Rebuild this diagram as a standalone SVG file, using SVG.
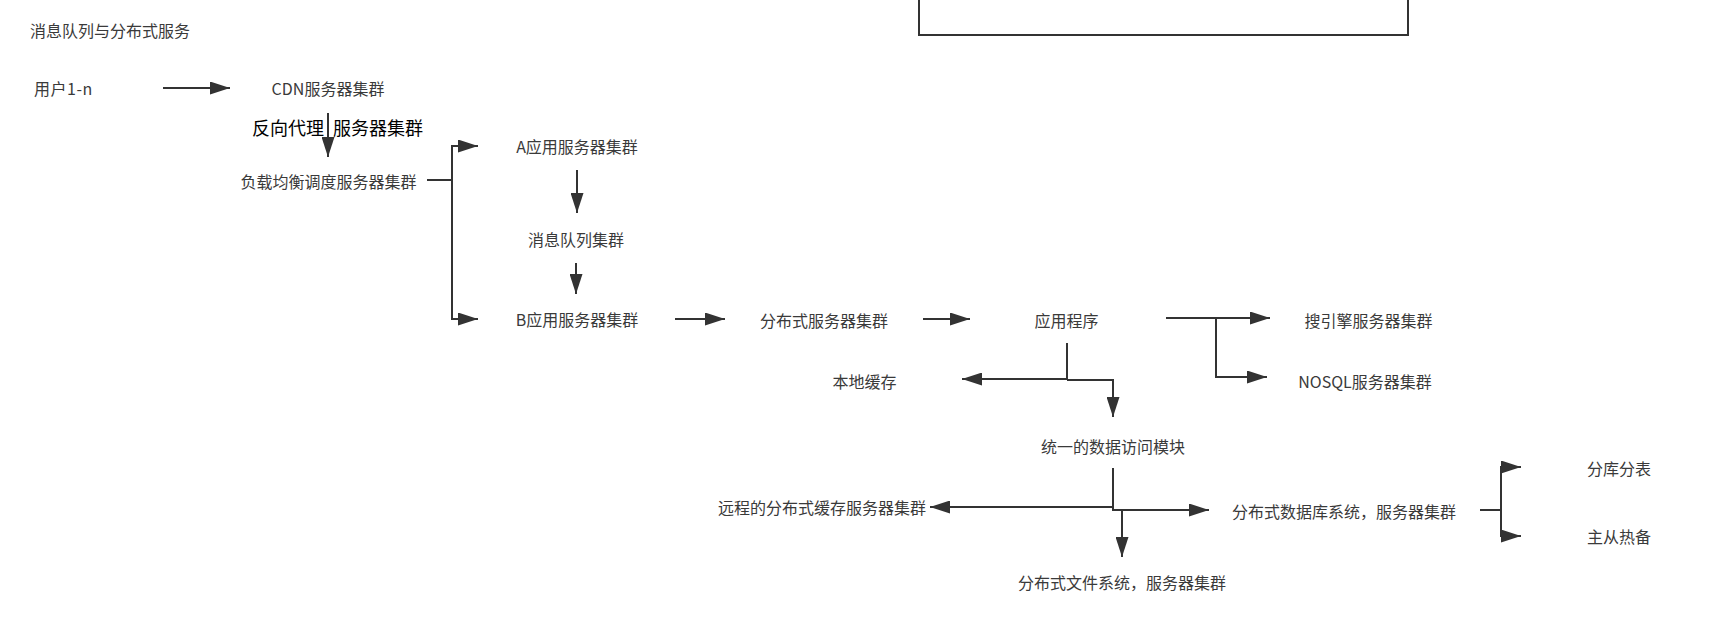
<svg xmlns="http://www.w3.org/2000/svg" width="1727" height="619" viewBox="0 0 1727 619">
<style>
  .t { font-family: "Noto Sans CJK SC", "Liberation Sans", sans-serif; font-size: 16px; fill: #3a3a3a; text-anchor: middle; dominant-baseline: central; }
  .ts { text-anchor: start; }
  .big { font-size: 18px; fill: #000; }
  .c { fill: none; stroke: #333; stroke-width: 2; marker-end: url(#ah); }
</style>
<defs>
  <marker id="ah" markerUnits="userSpaceOnUse" markerWidth="20" markerHeight="13" refX="20" refY="6.5" orient="auto">
    <path d="M0,0 L20,6.5 L0,13 Z" fill="#333"/>
  </marker>
</defs>
<rect width="1727" height="619" fill="#fff"/>

<g id="frame">
  <rect x="919" y="-10" width="489" height="45" fill="none" stroke="#333" stroke-width="2"/>
</g>

<g id="title"><text class="t ts" x="30" y="30">消息队列与分布式服务</text></g>
<g id="users"><text class="t ts" x="34" y="87.5" letter-spacing="0.5">用户1-n</text></g>
<g id="cdn"><text class="t" x="328" y="87.5">CDN服务器集群</text></g>
<g id="proxy"><text class="t ts big" x="252" y="126.5" word-spacing="5">反向代理 服务器集群</text></g>
<g id="lb"><text class="t" x="328.5" y="180.5">负载均衡调度服务器集群</text></g>
<g id="appA"><text class="t" x="577" y="145.5">A应用服务器集群</text></g>
<g id="mq"><text class="t" x="576" y="238.5">消息队列集群</text></g>
<g id="appB"><text class="t" x="577" y="318.5">B应用服务器集群</text></g>
<g id="dist"><text class="t" x="824" y="319.5">分布式服务器集群</text></g>
<g id="app"><text class="t" x="1066.5" y="319.5">应用程序</text></g>
<g id="search"><text class="t" x="1368.5" y="319.5">搜引擎服务器集群</text></g>
<g id="nosql"><text class="t" x="1365" y="380.5">NOSQL服务器集群</text></g>
<g id="localcache"><text class="t" x="864.5" y="380.5">本地缓存</text></g>
<g id="dao"><text class="t" x="1113" y="445.5">统一的数据访问模块</text></g>
<g id="remotecache"><text class="t" x="822" y="506.5">远程的分布式缓存服务器集群</text></g>
<g id="db"><text class="t" x="1344" y="510.5">分布式数据库系统，服务器集群</text></g>
<g id="fs"><text class="t" x="1122" y="581.5">分布式文件系统，服务器集群</text></g>
<g id="shard"><text class="t" x="1619" y="467.5">分库分表</text></g>
<g id="ha"><text class="t" x="1619" y="535.5">主从热备</text></g>

<g id="connectors">
  <path class="c" d="M163,88 H230"/>
  <path class="c" d="M328,113 V157"/>
  <path class="c" d="M427,180 H452 V146 H478"/>
  <path class="c" d="M452,180 V319 H478"/>
  <path class="c" d="M577,170 V213"/>
  <path class="c" d="M576,263 V294"/>
  <path class="c" d="M675,319 H725"/>
  <path class="c" d="M923,319 H970"/>
  <path class="c" d="M1166,318 H1270"/>
  <path class="c" d="M1216,318 V377 H1267"/>
  <path class="c" d="M1067,343 V379 H962"/>
  <path class="c" d="M1067,380 H1113 V417"/>
  <path class="c" d="M1113,468 V507 H930"/>
  <path class="c" d="M1113,507 V510 H1209"/>
  <path class="c" d="M1113,510 H1122 V557"/>
  <path class="c" d="M1480,510 H1501 V467 H1521"/>
  <path class="c" d="M1501,510 V536 H1521"/>
</g>
</svg>
